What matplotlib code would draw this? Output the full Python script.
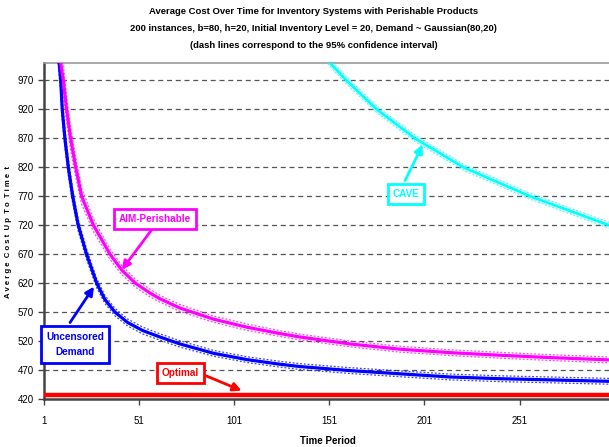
import matplotlib
matplotlib.use("Agg")
import matplotlib.pyplot as plt
from matplotlib import font_manager

names = {f.name for f in font_manager.fontManager.ttflist}
NARROW = ['Liberation Sans Narrow', 'Liberation Sans', 'DejaVu Sans'] if 'Liberation Sans Narrow' in names else ['Liberation Sans', 'DejaVu Sans']
plt.rcParams['font.family'] = NARROW

# ---- data ----
t_uncens = [8, 9.0, 9.8, 10.6, 12.0, 13.8, 16.1, 19.0, 23.4, 28.7, 33, 38.3, 45, 53, 62, 72.5, 90, 107.7, 125, 135.6, 162, 188, 214.5, 240.8, 267, 298]
v_uncens = [1045, 1000, 970, 920, 870, 820, 770, 720, 670, 620, 592, 570, 552, 538, 527, 515, 499, 488, 480, 476, 469, 463.5, 458, 455, 453, 450.5]
ci_uncens = [25, 22, 20, 18, 16, 14, 12, 10, 9, 8, 7, 6.5, 6, 6, 5.5, 5.5, 5, 5, 5, 5, 5, 5, 5, 5, 5, 5]

t_aim = [9.0, 9.8, 11.2, 12.9, 15.0, 17.7, 20.8, 27, 35.7, 41.8, 49, 56.7, 62, 72.5, 90, 107.6, 125, 135.6, 162, 188, 214.5, 240.8, 267, 298]
v_aim = [1030, 1000, 970, 920, 870, 820, 770, 720, 670, 643, 620, 603, 593, 577, 558, 544, 533, 527, 515, 506, 500, 495.5, 491.5, 487.5]
ci_aim = [30, 28, 26, 22, 20, 17, 14, 11, 9, 8, 7, 6.5, 6, 6, 5.5, 5.5, 5, 5, 5, 5, 5, 5, 5, 5]

t_cave = [145, 151.4, 160, 175.9, 196, 221.5, 256.5, 298]
v_cave = [1025, 1000, 970, 920, 870, 820, 770, 720]
ci_cave = [6, 6, 6, 5.5, 5.5, 5, 5, 5]

t_opt = [1, 298]
v_opt = [427, 427]

x_ticks = [1, 51, 101, 151, 201, 251]
y_ticks = [420, 470, 520, 570, 620, 670, 720, 770, 820, 870, 920, 970]

title_lines = ["Average Cost Over Time for Inventory Systems with Perishable Products",
               "200 instances, b=80, h=20, Initial Inventory Level = 20, Demand ~ Gaussian(80,20)",
               "(dash lines correspond to the 95% confidence interval)"]

fig = plt.figure(figsize=(6.09, 4.47), dpi=100)
ax = fig.add_axes([0.0722, 0.1074, 0.9278, 0.7516])

for y in y_ticks[1:]:
    ax.axhline(y, color='#555555', lw=0.9, ls=(0, (4, 3)), zorder=1)

def series(t, v, ci, color, lw):
    ax.plot(t, v, color=color, lw=lw, zorder=4, solid_capstyle='butt')
    ax.plot(t, [a + b for a, b in zip(v, ci)], color=color, lw=0.9, ls=(0, (1.5, 1.5)), alpha=0.75, zorder=3)
    ax.plot(t, [a - b for a, b in zip(v, ci)], color=color, lw=0.9, ls=(0, (1.5, 1.5)), alpha=0.75, zorder=3)

series(t_uncens, v_uncens, ci_uncens, '#0000FF', 2.3)
series(t_aim, v_aim, ci_aim, '#FF00FF', 2.3)
series(t_cave, v_cave, ci_cave, '#00FFFF', 2.0)
ax.plot(t_opt, v_opt, color='#FF0000', lw=3.2, zorder=4)

ax.set_xlim(1, 298)
ax.set_ylim(420, 1000)
ax.set_xticks(x_ticks)
ax.set_yticks(y_ticks)
ax.tick_params(axis='both', labelsize=7, length=4, width=1, color='#444444', direction='out')
ax.tick_params(axis='x', pad=8)
for s in ['left', 'bottom']:
    ax.spines[s].set_color('#444444')
    ax.spines[s].set_linewidth(1.8)
ax.spines['top'].set_color('#999999')
ax.spines['top'].set_linewidth(1.2)
ax.spines['right'].set_visible(False)

ax.set_xlabel('Time Period', fontsize=7, fontweight='bold')
ax.xaxis.set_label_coords(0.503, -0.11)
ax.set_ylabel('A v e r g e  C o s t  U p  T o  T i m e  t', fontsize=5.6, fontweight='bold')
ax.yaxis.set_label_coords(-0.057, 0.497)

fs_title = 6.8
fig.text(0.515, 0.975, title_lines[0], ha='center', va='center', fontsize=fs_title, fontweight='bold')
fig.text(0.515, 0.936, title_lines[1], ha='center', va='center', fontsize=fs_title, fontweight='bold')
fig.text(0.515, 0.899, title_lines[2], ha='center', va='center', fontsize=fs_title, fontweight='bold')

def label(text, xy_text, xy_arrow, start, color, pad=0.35, ls=1.2):
    ax.annotate('', xy=xy_arrow, xytext=start,
                arrowprops=dict(arrowstyle='-|>,head_length=0.5,head_width=0.25', color=color, lw=2, shrinkA=0, shrinkB=0), zorder=6)
    ax.text(xy_text[0], xy_text[1], text, ha='center', va='center', color=color, fontsize=7.2,
            fontweight='bold', linespacing=ls,
            bbox=dict(boxstyle=f'square,pad={pad}', fc='white', ec=color, lw=2), zorder=7)

label('AIM-Perishable', (59.5, 730.5), (41.9, 643), (57.6, 712), '#FF00FF', pad=0.5)
label('CAVE', (191.3, 774.7), (200.1, 859), (190.8, 797), '#00FFFF', pad=0.5)
label('Uncensored\nDemand', (17.3, 514), (27.3, 614), (14.7, 552), '#0000FF', pad=0.55, ls=1.7)
label('Optimal', (72.8, 465), (104.9, 434.4), (86.2, 460), '#FF0000', pad=0.5)

fig.savefig('out.png', dpi=100)
